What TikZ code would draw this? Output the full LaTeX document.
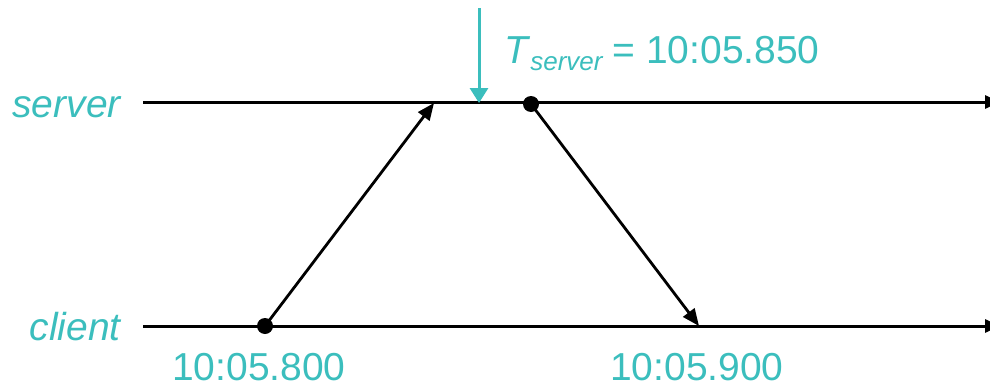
\documentclass[tikz,border=0pt]{standalone}
\usepackage{fontspec}
\setmainfont{Liberation Sans}
\usetikzlibrary{arrows.meta}
\definecolor{teal1}{RGB}{59,190,189}
\begin{document}
\begin{tikzpicture}[x=1pt,y=-1pt,
  axis/.style={line width=3pt, -{Triangle[length=15pt,width=13pt]}},
  msg/.style={line width=2.8pt, -{Triangle[length=17pt,width=14pt]}},
  dot/.style={circle, fill=black, inner sep=0pt, minimum size=16pt},
  lbl/.style={text=teal1, inner sep=0pt, font=\fontsize{39}{40}\selectfont},
  mark arrow/.style={draw=teal1, line width=3pt, -{Triangle[length=15pt,width=18pt]}}]
\useasboundingbox (0,0) rectangle (990,388);
% lines
\coordinate (s0) at (143,102);
\coordinate (s1) at (1000,102);
\coordinate (c0) at (143,326);
\coordinate (c1) at (1000,326);
\draw[axis] (s0) -- (s1);
\draw[axis] (c0) -- (c1);
% labels
\node[lbl, anchor=base east, font=\fontsize{39}{40}\selectfont\itshape] (server) at (121,117) {server};
\node[lbl, anchor=base east, font=\fontsize{39}{40}\selectfont\itshape] (client) at (121,340) {client};
% dots
\node[dot] (d1) at (265,326) {};
\node[dot] (d2) at (531,104) {};
\coordinate (e1) at (434,103);
\coordinate (e2) at (699,326);
\draw[msg] (d1.center) -- (e1);
\draw[msg] (d2.center) -- (e2);
% time labels
\node[lbl, anchor=base west] (t1) at (172,380) {10:05.800};
\node[lbl, anchor=base west] (t2) at (610,380) {10:05.900};
% server time marker
\coordinate (m0) at (479,8);
\coordinate (m1) at (479,103);
\draw[mark arrow] (m0) -- (m1);
\node[lbl, anchor=base west] (ts) at (504,63) {\textit{T}\raisebox{-7pt}{\fontsize{26}{26}\selectfont\itshape server}\hspace{10pt}= 10:05.850};
\end{tikzpicture}
\end{document}
